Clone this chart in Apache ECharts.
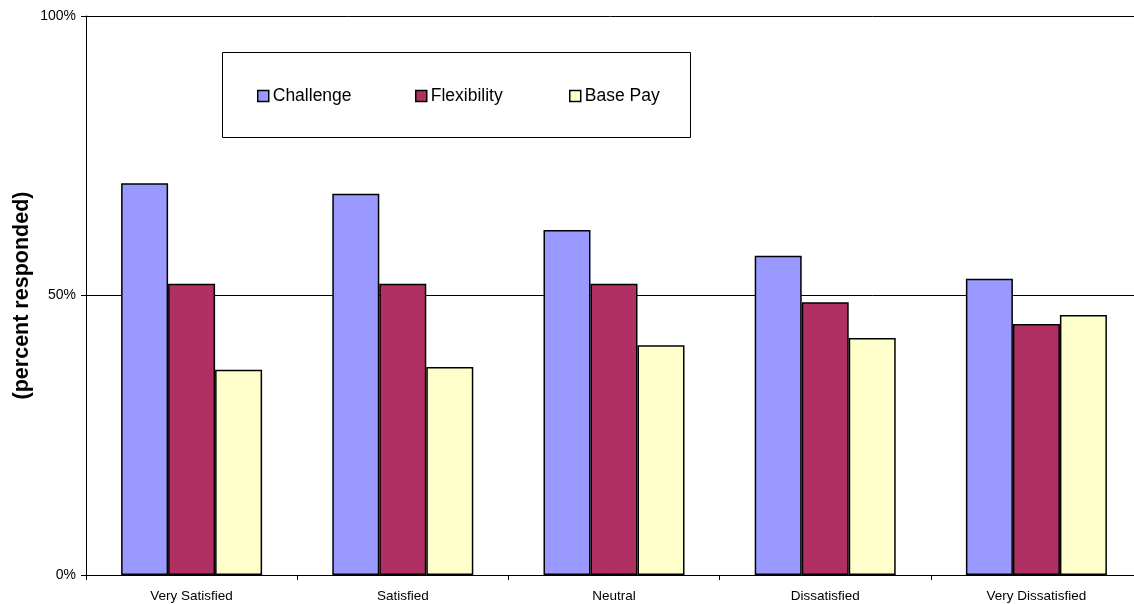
<!DOCTYPE html>
<html><head><meta charset="utf-8">
<script src="https://cdn.jsdelivr.net/npm/echarts@6/dist/echarts.min.js"></script>
<style>html,body{margin:0;padding:0;background:#fff}#c{width:1134px;height:604px}</style>
</head><body><div id="c"></div>
<script>
const categories = ['Very Satisfied', 'Satisfied', 'Neutral', 'Dissatisfied', 'Very Dissatisfied'];
const challenge = [70.1, 68.2, 61.7, 57.1, 53.0];
const flexibility = [52.1, 52.1, 52.1, 48.8, 44.9];
const basePay = [36.7, 37.2, 41.1, 42.4, 46.5];
const seriesNames = ['Challenge', 'Flexibility', 'Base Pay'];
const colors = ['#9999FF', '#B03064', '#FFFFCC'];
const yTicks = [0, 50, 100];

const font = 'Liberation Sans, Arial, sans-serif';
const chart = echarts.init(document.getElementById('c'));
const dataArr = [challenge, flexibility, basePay];
const legendLeft = [257, 415, 569];

chart.setOption({
  animation: false,
  textStyle: { fontFamily: font },
  grid: { left: 86, top: 16, width: 1056, height: 559, containLabel: false, outerBoundsMode: 'none' },
  graphic: [{
    type: 'rect', shape: { x: 222.5, y: 52.5, width: 468, height: 85 },
    style: { fill: '#fff', stroke: '#000', lineWidth: 1 }, z: 10
  }],
  legend: seriesNames.map((n, i) => ({
    data: [n], left: legendLeft[i], top: 87, z: 20, padding: 0,
    itemWidth: 11, itemHeight: 11, itemGap: 0,
    icon: 'rect',
    textStyle: { fontFamily: font, fontSize: 17.5, color: '#000', padding: [0, 0, 0, -1] },
    itemStyle: { borderColor: '#000', borderWidth: 1.5 },
    selectedMode: false
  })),
  xAxis: {
    type: 'category', data: categories,
    axisLine: { lineStyle: { color: '#000', width: 1 } },
    axisTick: { show: true, length: 5, lineStyle: { color: '#000' } },
    axisLabel: { color: '#000', fontSize: 13.5, margin: 14, fontFamily: font }
  },
  yAxis: {
    type: 'value', min: 0, max: 100, interval: 50,
    name: '(percent responded)', nameLocation: 'middle', nameGap: 53, nameMoveOverlap: false,
    nameTextStyle: { fontSize: 21.5, fontWeight: 'bold', color: '#000', fontFamily: font },
    axisLine: { show: true, lineStyle: { color: '#000', width: 1 } },
    axisTick: { show: true, length: 5, lineStyle: { color: '#000' } },
    axisLabel: { color: '#000', fontSize: 14, margin: 10, fontFamily: font,
      formatter: v => yTicks.includes(v) ? v + '%' : '' },
    splitLine: { show: true, lineStyle: { color: '#000', width: 1 } }
  },
  series: seriesNames.map((n, i) => ({
    name: n, type: 'bar', data: dataArr[i],
    barWidth: 47, barGap: '0%',
    itemStyle: { color: colors[i], borderColor: '#000', borderWidth: 1.5 }
  }))
});
</script></body></html>
